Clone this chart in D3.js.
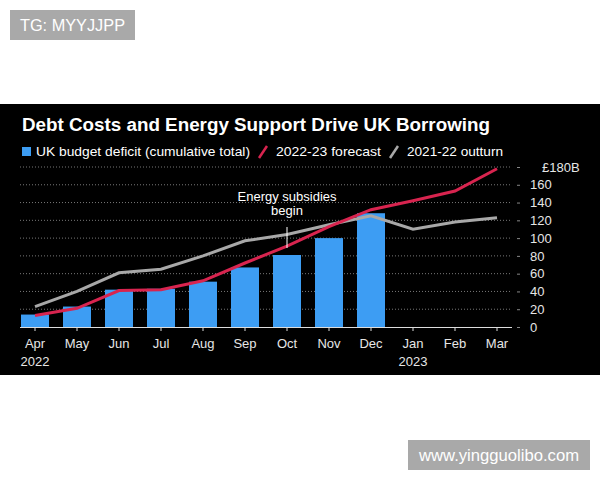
<!DOCTYPE html>
<html>
<head>
<meta charset="utf-8">
<script src="https://cdn.jsdelivr.net/npm/d3@7"></script>
<style>
  body { margin: 0; background: #fff; }
  svg { display: block; font-family: "Liberation Sans", Arial, sans-serif; }
</style>
</head>
<body>
<svg id="chart" width="600" height="480"></svg>
<script>
// data (GBP billions, cumulative)
var months = ['Apr', 'May', 'Jun', 'Jul', 'Aug', 'Sep', 'Oct', 'Nov', 'Dec', 'Jan', 'Feb', 'Mar'];
var yearLabels = {Apr: '2022', Jan: '2023'};
var deficit = [14, 23, 42, 43, 51, 67, 81, 100, 128, null, null, null];
var forecast = [13, 21, 41, 42, 52, 72, 91, 113, 132, 142, 153, 178];
var outturn = [23, 40, 61, 65, 80, 97, 104, 115, 125, 110, 118, 123];
var yTicks = [0, 20, 40, 60, 80, 100, 120, 140, 160, 180];

var svg = d3.select('#chart');

// watermark boxes
svg.append('rect').attr('x', 10).attr('y', 10).attr('width', 125).attr('height', 30).attr('fill', '#a9a9a9');
svg.append('text').attr('x', 20).attr('y', 31).attr('fill', '#fff').attr('font-size', 16)
  .attr('textLength', 105).attr('lengthAdjust', 'spacingAndGlyphs')
  .text('TG: MYYJJPP');
svg.append('rect').attr('x', 408).attr('y', 440).attr('width', 182).attr('height', 30).attr('fill', '#a9a9a9');
svg.append('text').attr('x', 419).attr('y', 461).attr('fill', '#fff').attr('font-size', 16)
  .attr('textLength', 160).attr('lengthAdjust', 'spacingAndGlyphs')
  .text('www.yingguolibo.com');

// black panel
svg.append('rect').attr('x', 0).attr('y', 104).attr('width', 600).attr('height', 271).attr('fill', '#000');

svg.append('text').attr('x', 22).attr('y', 131).attr('fill', '#fff')
  .attr('font-size', 18).attr('font-weight', 'bold')
  .attr('textLength', 468).attr('lengthAdjust', 'spacingAndGlyphs')
  .text('Debt Costs and Energy Support Drive UK Borrowing');

// legend
var leg = svg.append('g').attr('font-size', 13).attr('fill', '#fff');
leg.append('rect').attr('x', 22).attr('y', 147).attr('width', 9).attr('height', 9).attr('fill', '#3d9df3');
leg.append('text').attr('x', 36).attr('y', 156).attr('textLength', 214).attr('lengthAdjust', 'spacingAndGlyphs')
  .text('UK budget deficit (cumulative total)');
leg.append('line').attr('x1', 259).attr('y1', 158).attr('x2', 267).attr('y2', 146)
  .attr('stroke', '#d8244f').attr('stroke-width', 2.5);
leg.append('text').attr('x', 276).attr('y', 156).attr('textLength', 105).attr('lengthAdjust', 'spacingAndGlyphs')
  .text('2022-23 forecast');
leg.append('line').attr('x1', 390).attr('y1', 158).attr('x2', 398).attr('y2', 146)
  .attr('stroke', '#a8a8a8').attr('stroke-width', 2.5);
leg.append('text').attr('x', 407).attr('y', 156).attr('textLength', 96).attr('lengthAdjust', 'spacingAndGlyphs')
  .text('2021-22 outturn');

var x = d3.scaleBand().domain(months).range([14, 518]).paddingInner(1 / 3).paddingOuter(1 / 6);
var y = d3.scaleLinear().domain([0, 180]).range([327, 167]);
var cx = function(m) { return x(m) + x.bandwidth() / 2; };

// grid
svg.append('g').selectAll('line').data(yTicks.slice(1)).enter().append('line')
  .attr('x1', 20).attr('x2', 512)
  .attr('y1', function(d) { return y(d); }).attr('y2', function(d) { return y(d); })
  .attr('stroke', '#777').attr('stroke-width', 1).attr('stroke-dasharray', '1,2');

// right axis
var yAxis = d3.axisRight(y).tickValues(yTicks).tickSize(3).tickPadding(10)
  .tickFormat(function(d) { return d === 180 ? '£180B' : d; });
var ya = svg.append('g').attr('transform', 'translate(517,0)').call(yAxis);
ya.select('.domain').remove();
ya.selectAll('line').attr('stroke', '#888');
ya.selectAll('text').attr('fill', '#e6e6e6').attr('font-size', 13)
  .attr('font-family', '"Liberation Sans", Arial, sans-serif')
  .attr('dx', function(d) { return d === 180 ? 12 : 0; });

// bars
svg.append('g').selectAll('rect').data(months.filter(function(m, i) { return deficit[i] != null; }))
  .enter().append('rect')
  .attr('x', function(m) { return x(m); })
  .attr('width', x.bandwidth())
  .attr('y', function(m) { return y(deficit[months.indexOf(m)]); })
  .attr('height', function(m) { return y(0) - y(deficit[months.indexOf(m)]); })
  .attr('fill', '#3d9df3');

// x axis
var xAxis = d3.axisBottom(x).tickSize(4).tickPadding(8);
var xa = svg.append('g').attr('transform', 'translate(0,327)').call(xAxis);
xa.select('.domain').attr('d', 'M20,0.5H512').attr('stroke', '#ddd');
xa.selectAll('line').attr('stroke', '#ddd');
xa.selectAll('text').attr('fill', '#e6e6e6').attr('font-size', 13)
  .attr('font-family', '"Liberation Sans", Arial, sans-serif');
xa.selectAll('.tick').filter(function(m) { return yearLabels[m]; })
  .append('text').attr('y', 39).attr('fill', '#e6e6e6').attr('font-size', 13)
  .attr('text-anchor', 'middle')
  .text(function(m) { return yearLabels[m]; });

// lines
var line = function(vals) {
  return d3.line().x(function(d, i) { return cx(months[i]); }).y(function(d) { return y(d); })(vals);
};
svg.append('path').attr('d', line(outturn)).attr('fill', 'none')
  .attr('stroke', '#a8a8a8').attr('stroke-width', 3);
svg.append('path').attr('d', line(forecast)).attr('fill', 'none')
  .attr('stroke', '#d8244f').attr('stroke-width', 3);

// annotation
var ax = cx('Oct');
svg.append('line').attr('x1', ax).attr('x2', ax).attr('y1', 227).attr('y2', 248)
  .attr('stroke', '#fff').attr('stroke-width', 1);
svg.append('text').attr('x', ax).attr('y', 201).attr('fill', '#fff').attr('font-size', 13)
  .attr('text-anchor', 'middle').text('Energy subsidies');
svg.append('text').attr('x', ax).attr('y', 215).attr('fill', '#fff').attr('font-size', 13)
  .attr('text-anchor', 'middle').text('begin');
</script>
</body>
</html>
